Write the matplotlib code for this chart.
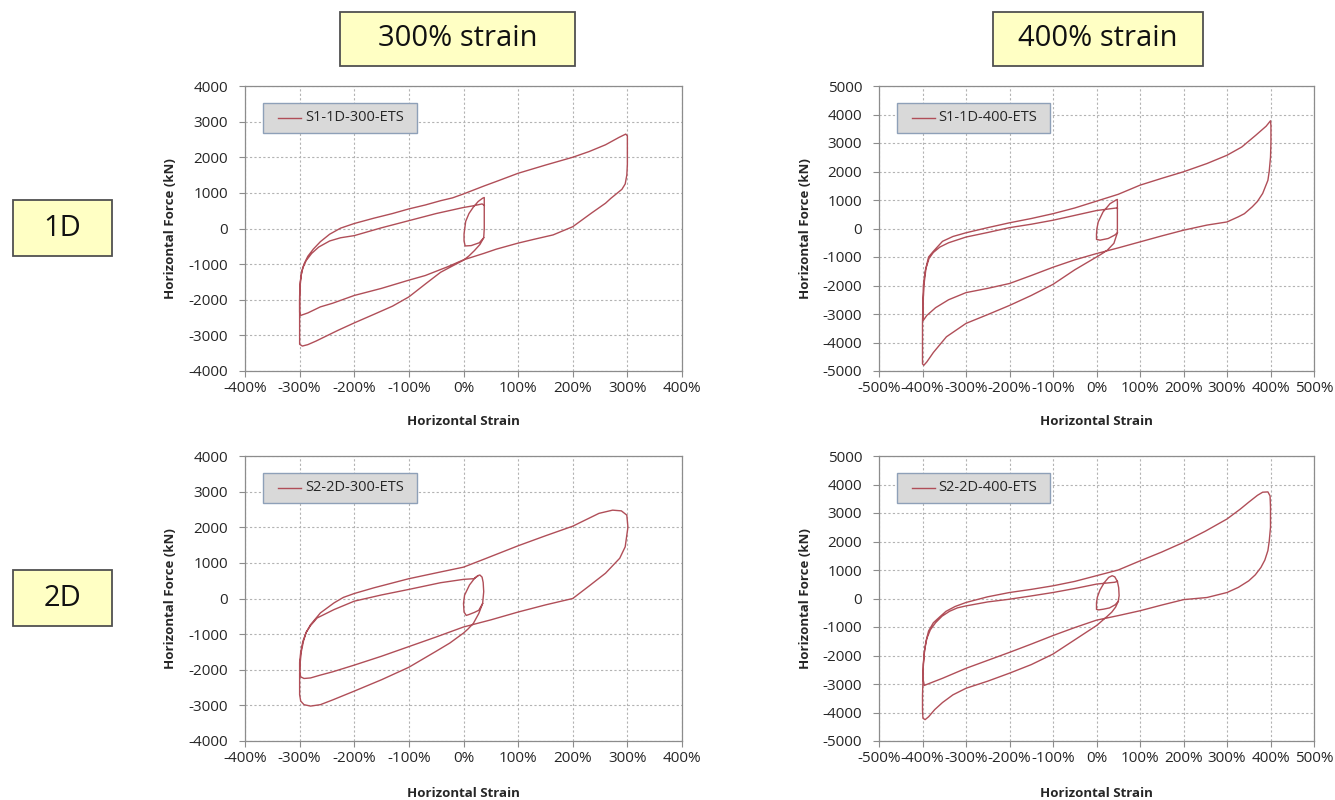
import matplotlib
matplotlib.use("Agg")
import matplotlib.pyplot as plt
from matplotlib.patches import Rectangle
from matplotlib.ticker import FuncFormatter, MultipleLocator

plt.rcParams['font.family'] = ['Open Sans', 'DejaVu Sans']
plt.rcParams['axes.unicode_minus'] = False

# hysteresis loops: horizontal strain (%) vs horizontal force (kN)
s1_300_strain = [37, 29, 14, 3, 1, 1, 4, 10, 18, 27, 35, 38, 38, 38, 38, 37,
                 30, 20, 10, 0, -20, -42, -70, -100, -130, -164, -200, -230, -250, -270, -285, -295,
                 -300, -300, -300, -300, -299, -296, -292,
                 -285, -275, -262, -245, -225, -200, -164, -130, -100, -70, -42, -20, 0, 37, 60, 100,
                 150, 200, 230, 260, 285, 297, 300,
                 300, 300, 299, 296, 290, 282, 270, 260, 234, 200, 164, 130, 100, 60, 37, 0, -30, -70,
                 -100, -150, -200, -240, -262, -285, -298, -300,
                 -300, -299, -297, -294, -288, -278, -265, -245, -225, -200, -150, -100, -50, 0, 19, 34, 38]
s1_300_force = [-260, -400, -480, -490, -350, -150, 200, 420, 600, 760, 850, 870, 650, 300, 0, -260,
                -450, -620, -770, -890, -1050, -1230, -1560, -1920, -2180, -2410, -2650, -2860, -3010, -3160, -3260, -3300,
                -3250, -2900, -2400, -1900, -1500, -1200, -1000,
                -780, -580, -370, -160, 10, 140, 290, 420, 550, 660, 780, 860, 970, 1190, 1320, 1550,
                1780, 2000, 2160, 2350, 2560, 2650, 2600,
                2200, 1800, 1500, 1250, 1100, 1000, 850, 710, 430, 50, -180, -300, -410, -580, -700, -880, -1080, -1320,
                -1450, -1680, -1880, -2100, -2200, -2370, -2440, -2350,
                -2000, -1600, -1300, -1100, -900, -700, -520, -350, -260, -200, 20, 220, 420, 590, 640, 690, 650]

s1_400_strain = [48, 42, 27, 8, 0, 0, 1, 4, 15, 31, 45, 48, 48, 48, 48, 48,
                 40, 25, 10, 0, -50, -100, -150, -200, -250, -300, -345, -375, -390, -397,
                 -400, -400, -400, -399, -398,
                 -394, -386, -375, -354, -330, -300, -250, -200, -150, -100, -50, 0, 50, 100, 150, 200,
                 254, 300, 334, 366, 390, 400,
                 401, 401, 400, 397, 394, 382, 370, 358, 340, 326, 300, 254, 200, 150, 100, 50, 0, -50,
                 -100, -150, -200, -250, -300, -340, -370, -390, -398,
                 -399, -398, -396, -392, -385, -375, -360, -340, -320, -300, -250, -200, -150, -100, -50,
                 0, 30, 46, 48]
s1_400_force = [-150, -230, -350, -410, -380, -200, 0, 230, 580, 870, 1000, 1020, 700, 300, 0, -150,
                -520, -760, -910, -1000, -1450, -1960, -2350, -2700, -3020, -3330, -3800, -4350, -4680, -4800,
                -4750, -4000, -3300, -2600, -2000,
                -1500, -1000, -800, -450, -280, -150, 30, 200, 350, 520, 720, 960, 1200, 1520, 1760, 1990,
                2280, 2570, 2860, 3270, 3590, 3780,
                3600, 3000, 2500, 2000, 1690, 1230, 950, 760, 520, 410, 230, 120, -60, -260, -470, -680, -880, -1100,
                -1360, -1650, -1930, -2100, -2250, -2500, -2780, -3050, -3220,
                -2900, -2400, -1900, -1400, -1050, -840, -650, -500, -400, -300, -140, 30, 150, 290, 460,
                630, 690, 720, 700]

s2_300_strain = [35, 28, 20, 10, 5, 1, 0, 2, 11, 20, 26, 30, 34, 36, 37, 35,
                 28, 18, 8, 0, -25, -50, -100, -150, -200, -240, -262, -280, -292, -298,
                 -300, -300, -300, -299, -297, -293,
                 -288, -280, -262, -237, -220, -200, -164, -100, -42, 0, 37, 100, 150, 200, 248, 273, 289, 299,
                 301, 296, 286, 260, 229, 200, 150, 100, 50, 0, -50, -100, -150, -200, -240, -262, -280,
                 -292, -298, -300,
                 -300, -298, -294, -288, -280, -268, -237, -200, -150, -100, -42, 0, 19, 26]
s2_300_force = [-140, -330, -390, -450, -475, -380, -140, 95, 380, 560, 640, 660, 600, 450, 190, -140,
                -420, -700, -860, -970, -1250, -1480, -1930, -2280, -2600, -2850, -2980, -3020, -2980, -2880,
                -2700, -2400, -2100, -1800, -1500, -1200,
                -950, -735, -405, -123, 30, 140, 300, 556, 745, 880, 1100, 1480, 1760, 2030, 2390, 2480, 2460, 2340,
                2000, 1450, 1130, 710, 340, 0, -180, -380, -600, -800, -1080, -1350, -1620, -1870, -2060, -2150, -2230,
                -2245, -2200, -2050,
                -1800, -1500, -1200, -950, -760, -547, -311, -75, 100, 255, 443, 537, 556, 630]

s2_400_strain = [50, 43, 30, 16, 5, 0, 0, 2, 8, 18, 28, 36, 42, 48, 51, 52, 50,
                 44, 35, 25, 10, 0, -50, -100, -150, -200, -250, -300, -330, -354, -372, -386, -394,
                 -399, -400, -400, -399,
                 -398, -396, -392, -386, -375, -360, -346, -325, -300, -250, -200, -150, -100, -50, 0, 50,
                 100, 150, 200, 250, 300, 330, 350, 370, 382, 394, 399,
                 400, 400, 397, 394, 387, 378, 365, 350, 326, 300, 254, 200, 150, 100, 50, 0, -50, -100,
                 -150, -200, -250, -300, -354, -386, -396,
                 -399, -398, -395, -390, -382, -370, -355, -338, -320, -300, -250, -200, -150, -100, -50,
                 0, 25, 42, 48]
s2_400_force = [-100, -220, -330, -375, -400, -380, -150, 50, 300, 560, 740, 800, 760, 600, 380, 100, -100,
                -300, -480, -620, -820, -950, -1450, -1950, -2320, -2620, -2900, -3150, -3380, -3650, -3900, -4150, -4250,
                -4200, -3900, -3400, -2900,
                -2300, -1900, -1500, -1140, -850, -640, -450, -280, -140, 60, 210, 320, 445, 600, 800, 1000,
                1320, 1630, 1970, 2360, 2790, 3130, 3380, 3620, 3730, 3740, 3600,
                3200, 2500, 2000, 1680, 1350, 1090, 830, 620, 390, 210, 35, -40, -230, -430, -600, -760, -1020, -1300,
                -1600, -1890, -2170, -2450, -2800, -2990, -3050,
                -2800, -2300, -1800, -1400, -1100, -850, -620, -450, -330, -260, -120, -25, 90, 210, 350,
                505, 545, 570, 600]

W, H = 1335, 800
line_color = '#b04e58'

fig = plt.figure(figsize=(W / 100, H / 100), dpi=100)


def px_rect(left, top, right, bottom):
    return [left / W, 1 - bottom / H, (right - left) / W, (bottom - top) / H]


def label_box(left, top, right, bottom, text):
    x, y, w, h = px_rect(left, top, right, bottom)
    fig.patches.append(Rectangle((x, y), w, h, transform=fig.transFigure,
                                 facecolor='#ffffc4', edgecolor='#505050', linewidth=1.3))
    fig.text(x + w / 2, y + h / 2, text, ha='center', va='center', fontsize=21, color='#111111')


label_box(340, 12, 575, 66, '300% strain')
label_box(993, 12, 1203, 66, '400% strain')
label_box(13, 200, 112, 256, '1D')
label_box(13, 570, 112, 626, '2D')

panels = [
    (s1_300_strain, s1_300_force, 'S1-1D-300-ETS', (245, 86, 682, 371), 400, 4000, -0.155),
    (s1_400_strain, s1_400_force, 'S1-1D-400-ETS', (879, 86, 1314, 371), 500, 5000, -0.155),
    (s2_300_strain, s2_300_force, 'S2-2D-300-ETS', (245, 456, 682, 741), 400, 4000, -0.16),
    (s2_400_strain, s2_400_force, 'S2-2D-400-ETS', (879, 456, 1314, 741), 500, 5000, -0.16),
]

for strain, force, name, box, xmax, ymax, xlab_y in panels:
    ax = fig.add_axes(px_rect(*box))
    ax.plot(strain, force, color=line_color, linewidth=1.0)
    ax.set_xlim(-xmax, xmax)
    ax.set_ylim(-ymax, ymax)
    ax.xaxis.set_major_locator(MultipleLocator(100))
    ax.yaxis.set_major_locator(MultipleLocator(1000))
    ax.xaxis.set_major_formatter(FuncFormatter(lambda v, p: f"{v:.0f}%"))
    ax.yaxis.set_major_formatter(FuncFormatter(lambda v, p: f"{v:.0f}"))
    ax.set_axisbelow(True)
    ax.grid(True, color='#b3b3b3', linestyle=(0, (2, 2)), linewidth=0.8)
    for sp in ax.spines.values():
        sp.set_color('#8c8c8c')
        sp.set_linewidth(0.9)
    ax.tick_params(direction='out', length=4, width=0.8, color='#8c8c8c',
                   labelsize=11, labelcolor='#262626')
    ax.tick_params(axis='y', pad=8)
    ax.tick_params(axis='x', pad=3)

    ax.set_xlabel('Horizontal Strain', fontsize=9.5, fontweight='bold', color='#262626')
    ax.set_ylabel('Horizontal Force (kN)', fontsize=9.5, fontweight='bold', color='#262626')
    ax.xaxis.set_label_coords(0.5, xlab_y)
    ax.yaxis.set_label_coords(-0.155, 0.5)

    # series key in the upper left corner
    ax.add_patch(Rectangle((0.0412, 0.835), 0.352, 0.105, transform=ax.transAxes,
                           facecolor='#d9d9d9', edgecolor='#8ea0b8', linewidth=1.0, zorder=5))
    ax.plot([0.0755, 0.128], [0.888, 0.888], transform=ax.transAxes,
            color=line_color, linewidth=1.0, zorder=6)
    ax.text(0.137, 0.888, name, transform=ax.transAxes, ha='left', va='center',
            fontsize=10.5, color='#262626', zorder=6)

fig.savefig('out.png', dpi=100)
